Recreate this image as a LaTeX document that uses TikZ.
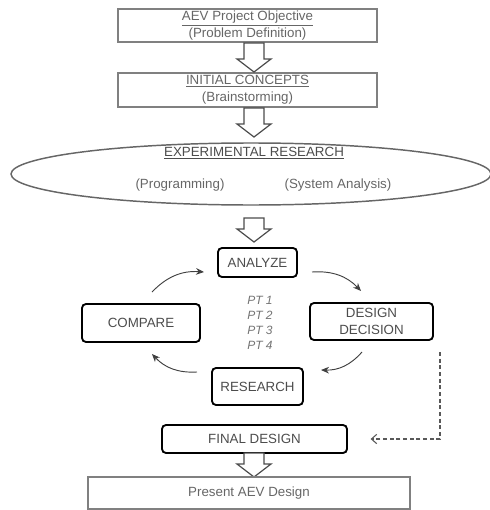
\documentclass[tikz,border=0pt]{standalone}
\usepackage{fontspec}
\setmainfont{Liberation Sans}
\usetikzlibrary{arrows.meta,calc,shapes.geometric}
\begin{document}
\begin{tikzpicture}[x=0.75pt,y=0.75pt,
  topbox/.style={draw=black!50, line width=1pt, text=black!60, align=center,
    font=\fontsize{10}{13}\selectfont, inner sep=0pt},
  cyclebox/.style={draw=black, line width=1.4pt, rounded corners=3pt, text=black!70,
    align=center, font=\fontsize{10}{13}\selectfont, inner sep=0pt},
  plaintext/.style={text=black!60, font=\fontsize{10}{12}\selectfont, inner sep=0pt},
  cyc/.style={draw=black!75, line width=0.7pt, -{Stealth[length=6pt,width=5pt]}},
  dashedarrow/.style={draw=black!65, line width=0.8pt, dashed, dash pattern=on 3pt off 2pt,
    -{Straight Barb[length=4pt,width=7pt]}},
  harrowstyle/.style={draw=black!70, line width=0.9pt, fill=white, line join=miter},
  pics/harrow/.style={code={\draw[harrowstyle] (-10,0) -- (-10,{-#1+13}) -- (-17,{-#1+13})
     -- (0,{-#1}) -- (17,{-#1+13}) -- (10,{-#1+13}) -- (10,0) -- cycle;}}
]
\useasboundingbox (0,0) rectangle (489,-510);

% top boxes
\node[topbox, minimum width=259*0.75pt, minimum height=33*0.75pt] (obj) at (247.5,-25.5)
  {\underline{AEV Project Objective}\\(Problem Definition)};
\node[topbox, minimum width=259*0.75pt, minimum height=34*0.75pt] (init) at (247.5,-90)
  {\underline{INITIAL CONCEPTS}\\(Brainstorming)};

% ellipse
\node[ellipse, draw=black!60, line width=1.1pt, minimum width=480*0.75pt, minimum height=62*0.75pt,
  inner sep=0pt] (exp) at (251,-174) {};
\node[plaintext, text=black!70] (expt) at (254,-153) {\underline{EXPERIMENTAL RESEARCH}};
\node[plaintext] (prog) at (180,-185) {(Programming)};
\node[plaintext] (sys) at (338,-185) {(System Analysis)};

% hollow arrows
\pic at (254,-43) {harrow=29};
\pic at (254,-108) {harrow=29};
\pic at (254,-218) {harrow=24};

% cycle
\node[cyclebox, minimum width=79*0.75pt, minimum height=29*0.75pt] (ana) at (257.5,-262.5) {ANALYZE};
\node[cyclebox, minimum width=123*0.75pt, minimum height=37*0.75pt] (dd) at (371.5,-321.5) {DESIGN\\DECISION};
\node[cyclebox, minimum width=118*0.75pt, minimum height=38*0.75pt] (cmp) at (141,-323) {COMPARE};
\node[cyclebox, minimum width=91*0.75pt, minimum height=37*0.75pt] (res) at (257.5,-386.5) {RESEARCH};

\node[text=black!55, align=center, font=\fontsize{9}{11.25}\itshape, inner sep=0pt] (pt) at (260,-322.5)
  {PT 1\\PT 2\\PT 3\\PT 4};

\coordinate (a1s) at (152,-292);
\coordinate (a1e) at (204,-272);
\coordinate (a2s) at (312,-272);
\coordinate (a2e) at (361,-291);
\coordinate (a3s) at (362,-352);
\coordinate (a3e) at (321,-370);
\coordinate (a4s) at (197,-372);
\coordinate (a4e) at (152,-354);
\draw[cyc] (a1s) to[bend left=25] (a1e);
\draw[cyc] (a2s) to[bend left=25] (a2e);
\draw[cyc] (a3s) to[bend left=25] (a3e);
\draw[cyc] (a4s) to[bend left=25] (a4e);

% final
\node[cyclebox, minimum width=185*0.75pt, minimum height=28*0.75pt] (fin) at (254.5,-439) {FINAL DESIGN};
\coordinate (dstart) at (440,-352);
\draw[dashedarrow, shorten >=17pt] (dstart) |- (fin.east);

\pic at (254,-453) {harrow=24};

\node[topbox, minimum width=322*0.75pt, minimum height=32*0.75pt] (pres) at (249,-493) {Present AEV Design};
\end{tikzpicture}
\end{document}
